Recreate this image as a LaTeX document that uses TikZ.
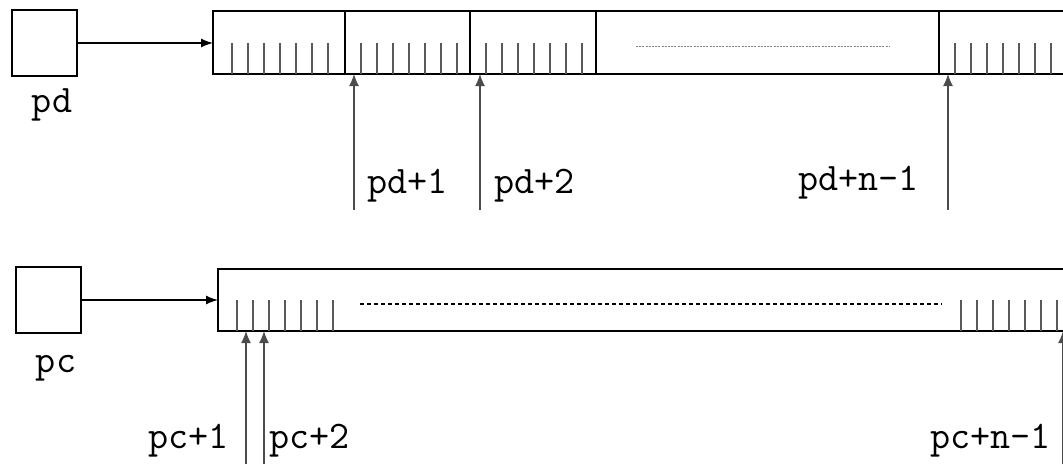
\documentclass[tikz,border=0pt]{standalone}
\usepackage{tikz}
\usetikzlibrary{arrows.meta, positioning}

\begin{document}
\begin{tikzpicture}[
    x=1pt, y=-1pt,
    every node/.style={inner sep=0pt, outer sep=0pt},
    cellbox/.style ={draw, line width=1.8pt, minimum width=65pt, minimum height=66pt},
    buffer/.style  ={draw, line width=1.8pt, anchor=north west},
    tick/.style    ={line width=1.3pt, gray!70!black},
    divider/.style ={line width=1.5pt},
    link/.style    ={-{Latex[length=12pt, width=9pt]}, line width=1.3pt},
    ptr/.style     ={-{Latex[length=12pt, width=10pt]}, line width=1.3pt, gray!60!black},
    lbl/.style     ={font=\fontsize{39}{40}\selectfont\ttfamily}
]
\useasboundingbox (0,0) rectangle (1063,464);
\clip (0,0) rectangle (1063,464);

% data buffer
\node [cellbox] (pd) at (44.5,43) {};
\node [lbl, anchor=base] (pdname) at (52,112) {pd};
\node [buffer, minimum width=900pt, minimum height=63pt] (pdarr) at (213,11) {};
\draw [link] (pd.east) -- (pd.east -| pdarr.west);
\foreach \s in {345,470,596,939}
    \draw [divider] (\s,11) -- (\s,74);
\foreach \s in {216,345,470,939}
    \foreach \k in {1,...,7}
        \draw [tick] (\s+16*\k,43) -- (\s+16*\k,74);
\draw [gray, line width=1pt, dash pattern=on 2pt off 1.2pt] (636,46) -- (889,46);

\coordinate (pd1) at (354,210);
\coordinate (pd2) at (480,210);
\coordinate (pdn) at (948,210);
\foreach \p in {pd1,pd2,pdn}
    \draw [ptr] (\p) -- (\p |- pdarr.south);
\node [lbl, anchor=base west] (pd1lbl) at (367,193) {pd+1};
\node [lbl, anchor=base west] (pd2lbl) at (494,193) {pd+2};
\node [lbl, anchor=base east] (pdnlbl) at (919,190) {pd+n-1};

% code buffer
\node [cellbox] (pc) at (48.5,300) {};
\node [lbl, anchor=base] (pcname) at (56,372) {pc};
\node [buffer, minimum width=900pt, minimum height=62pt] (pcarr) at (218,269) {};
\draw [link] (pc.east) -- (pc.east -| pcarr.west);
\foreach \s in {221,945}
    \foreach \k in {1,...,7}
        \draw [tick] (\s+16*\k,300) -- (\s+16*\k,331);
\draw [line width=1.1pt, dash pattern=on 4pt off 3pt] (360,304) -- (942,304);

\coordinate (pc1) at (246,464);
\coordinate (pc2) at (264,464);
\coordinate (pcn) at (1063,464);
\foreach \p in {pc1,pc2,pcn}
    \draw [ptr] (\p) -- (\p |- pcarr.south);
\node [lbl, anchor=base east] (pc1lbl) at (229,448) {pc+1};
\node [lbl, anchor=base west] (pc2lbl) at (269,448) {pc+2};
\node [lbl, anchor=base east] (pcnlbl) at (1051,448) {pc+n-1};
\end{tikzpicture}
\end{document}
